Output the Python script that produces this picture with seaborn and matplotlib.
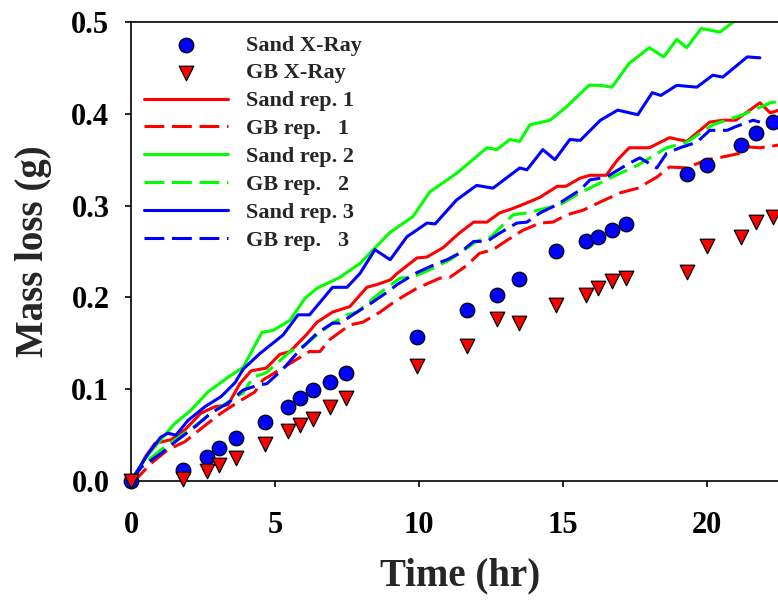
import numpy as np
import pandas as pd
import matplotlib
matplotlib.use("Agg")
import matplotlib.pyplot as plt
from matplotlib.ticker import FormatStrFormatter
import seaborn as sns

# ---------------- data ----------------
xray_time = [0, 1.8, 2.64, 3.06, 3.65, 4.67, 5.45, 5.88, 6.32, 6.9, 7.47, 9.93, 11.67,
             12.7, 13.47, 14.76, 15.8, 16.2, 16.7, 17.2, 19.3, 20.0, 21.2, 21.7, 22.3]
sand_xray = [0, 0.012, 0.026, 0.036, 0.047, 0.064, 0.081, 0.090, 0.099, 0.108, 0.118, 0.157,
             0.186, 0.203, 0.220, 0.251, 0.261, 0.266, 0.273, 0.280, 0.334, 0.344, 0.366,
             0.379, 0.391]
gb_xray = [0, 0.002, 0.011, 0.017, 0.025, 0.040, 0.054, 0.061, 0.068, 0.081, 0.090, 0.125,
           0.147, 0.177, 0.172, 0.192, 0.203, 0.210, 0.218, 0.221, 0.228, 0.256, 0.266,
           0.282, 0.288]

sand1_t = [0, 0.14, 0.49, 0.83, 1.39, 1.88, 2.43, 2.92, 3.37, 3.78, 4.17, 4.7, 5.17, 5.52,
           6.11, 6.46, 7.0, 7.6, 8.19, 8.54, 9.0, 9.24, 9.93, 10.28, 10.83, 11.4, 11.9, 12.36,
           12.8, 13.27, 13.75, 14.2, 14.8, 15.1, 15.6, 15.94, 16.5, 16.9, 17.3, 18.0, 18.7,
           19.3, 20.1, 20.55, 21.0, 21.4, 21.84, 22.2, 22.9]
sand1_m = [0, 0.004, 0.026, 0.041, 0.045, 0.056, 0.074, 0.081, 0.083, 0.106, 0.120, 0.123,
           0.138, 0.141, 0.160, 0.173, 0.184, 0.190, 0.211, 0.214, 0.219, 0.226, 0.243, 0.244,
           0.254, 0.270, 0.282, 0.282, 0.292, 0.297, 0.303, 0.309, 0.321, 0.321, 0.330, 0.333,
           0.333, 0.350, 0.363, 0.363, 0.374, 0.370, 0.391, 0.393, 0.393, 0.402, 0.412, 0.401,
           0.408]

gb1_t = [0, 0.24, 0.69, 1.28, 1.88, 2.43, 3.13, 3.72, 4.3, 4.58, 5.52, 6.2, 6.56, 6.9, 7.6,
         8.05, 8.65, 9.0, 9.34, 9.93, 10.73, 11.08, 11.67, 12.1, 12.57, 13.05, 13.6, 14.2,
         14.65, 15.14, 15.7, 16.3, 17.0, 17.6, 18.26, 18.7, 19.3, 20.0, 20.55, 21.15, 21.4,
         21.84, 22.3, 22.9]
gb1_m = [0, 0.004, 0.019, 0.034, 0.043, 0.057, 0.074, 0.086, 0.097, 0.110, 0.128, 0.141,
         0.141, 0.154, 0.170, 0.173, 0.184, 0.192, 0.199, 0.210, 0.221, 0.222, 0.235, 0.248,
         0.252, 0.262, 0.273, 0.281, 0.282, 0.290, 0.295, 0.304, 0.314, 0.319, 0.331, 0.342,
         0.341, 0.350, 0.353, 0.357, 0.364, 0.363, 0.365, 0.368]

sand2_t = [0, 0.5, 1.04, 1.5, 2.08, 2.67, 3.37, 3.9, 4.34, 4.55, 4.93, 5.52, 6.04, 6.46,
           7.26, 7.95, 9.0, 9.79, 10.38, 11.3, 12.36, 12.7, 13.16, 13.5, 13.85, 14.55, 15.1,
           15.9, 16.3, 16.7, 17.3, 18.0, 18.5, 18.95, 19.3, 19.8, 20.45, 21.0, 21.5]
sand2_m = [0, 0.025, 0.045, 0.062, 0.077, 0.097, 0.113, 0.124, 0.150, 0.162, 0.164, 0.175,
           0.199, 0.210, 0.222, 0.237, 0.271, 0.288, 0.315, 0.335, 0.363, 0.361, 0.372, 0.370,
           0.388, 0.393, 0.407, 0.431, 0.431, 0.429, 0.455, 0.472, 0.462, 0.481, 0.472, 0.493,
           0.489, 0.502, 0.515]

gb2_t = [0, 0.5, 1.04, 1.63, 2.22, 2.78, 3.37, 3.89, 4.24, 4.7, 5.52, 6.04, 6.5, 7.0, 7.5,
         7.85, 8.65, 9.34, 9.79, 10.5, 11.08, 12.0, 12.5, 13.27, 13.75, 14.9, 15.6, 16.7,
         17.6, 18.6, 19.3, 20.2, 21.25, 22.2, 22.9]
gb2_m = [0, 0.020, 0.034, 0.047, 0.060, 0.074, 0.086, 0.096, 0.113, 0.118, 0.141, 0.148,
         0.160, 0.172, 0.181, 0.184, 0.205, 0.221, 0.222, 0.232, 0.241, 0.261, 0.266, 0.290,
         0.292, 0.301, 0.314, 0.331, 0.344, 0.363, 0.369, 0.388, 0.399, 0.412, 0.415]

sand3_t = [0, 0.24, 0.6, 1.04, 1.28, 1.56, 1.98, 2.57, 3.13, 3.61, 3.9, 4.48, 5.28, 5.8, 6.2,
           7.0, 7.5, 7.95, 8.47, 9.0, 9.58, 10.28, 10.56, 11.3, 12.0, 12.57, 13.5, 13.75, 14.3,
           14.72, 15.24, 15.6, 16.3, 16.9, 17.6, 18.1, 18.4, 18.95, 19.65, 20.2, 20.55, 21.4,
           21.84]
sand3_m = [0, 0.012, 0.030, 0.048, 0.052, 0.050, 0.066, 0.081, 0.092, 0.107, 0.122, 0.139,
           0.159, 0.181, 0.181, 0.211, 0.211, 0.226, 0.252, 0.241, 0.266, 0.281, 0.280, 0.306,
           0.322, 0.319, 0.341, 0.339, 0.361, 0.350, 0.372, 0.371, 0.393, 0.404, 0.399, 0.423,
           0.420, 0.431, 0.429, 0.442, 0.440, 0.462, 0.461]

gb3_t = [0, 0.35, 1.04, 1.63, 2.22, 2.78, 3.37, 3.89, 4.37, 4.72, 5.28, 5.87, 6.46, 7.0,
         7.26, 7.7, 8.4, 9.0, 9.24, 9.93, 10.63, 10.97, 11.4, 11.9, 12.36, 12.8, 13.4, 13.75,
         14.2, 14.8, 15.24, 15.6, 15.94, 16.5, 17.3, 17.67, 18.26, 18.6, 19.06, 19.65, 20.1,
         20.7, 21.0, 21.6, 21.84]
gb3_m = [0, 0.015, 0.030, 0.045, 0.059, 0.074, 0.085, 0.099, 0.104, 0.106, 0.122, 0.143,
         0.161, 0.172, 0.172, 0.181, 0.195, 0.208, 0.214, 0.227, 0.237, 0.241, 0.248, 0.261,
         0.261, 0.270, 0.281, 0.282, 0.292, 0.301, 0.310, 0.317, 0.328, 0.331, 0.346, 0.352,
         0.341, 0.357, 0.363, 0.369, 0.382, 0.382, 0.386, 0.393, 0.391]

x_ticks = [0, 5, 10, 15, 20]
y_ticks = [0.0, 0.1, 0.2, 0.3, 0.4, 0.5]

# ---------------- style ----------------
sns.set_style("ticks")
plt.rcParams['font.family'] = ['Liberation Serif', 'DejaVu Serif']
plt.rcParams['font.weight'] = 'bold'
plt.rcParams['axes.labelweight'] = 'bold'
plt.rcParams['lines.solid_joinstyle'] = 'round'
plt.rcParams['lines.dash_joinstyle'] = 'round'

RED, GREEN, BLUE = '#FF0000', '#00FF00', '#0000FF'
DASH = (0, (6.5, 2.5))
LW = 2.2

fig = plt.figure(figsize=(7.78, 6.03), dpi=100)
ax = fig.add_axes([131 / 778, 122 / 603, 658 / 778, 459 / 603])

lines = [
    (sand1_t, sand1_m, RED, '-', 'Sand rep. 1'),
    (gb1_t, gb1_m, RED, DASH, 'GB rep.   1'),
    (sand2_t, sand2_m, GREEN, '-', 'Sand rep. 2'),
    (gb2_t, gb2_m, GREEN, DASH, 'GB rep.   2'),
    (sand3_t, sand3_m, BLUE, '-', 'Sand rep. 3'),
    (gb3_t, gb3_m, BLUE, DASH, 'GB rep.   3'),
]
for t, m, c, ls, lab in lines:
    df = pd.DataFrame({'Time': t, 'Mass': m})
    sns.lineplot(data=df, x='Time', y='Mass', color=c, linestyle=ls, lw=LW,
                 label=lab, sort=False, estimator=None, ax=ax)

xdf = pd.DataFrame({'Time': xray_time, 'Sand': sand_xray, 'GB': gb_xray})
sns.scatterplot(data=xdf, x='Time', y='Sand', marker='o', s=110, color=BLUE,
                edgecolor='black', linewidth=0.9, label='Sand X-Ray', zorder=5,
                clip_on=False, ax=ax)
sns.scatterplot(data=xdf, x='Time', y='GB', marker='v', s=110, color=RED,
                edgecolor='black', linewidth=0.9, label='GB X-Ray', zorder=5,
                clip_on=False, ax=ax)

ax.set_xlim(0, 22.85)
ax.set_ylim(0, 0.5)
ax.set_xticks(x_ticks)
ax.set_yticks(y_ticks)
ax.yaxis.set_major_formatter(FormatStrFormatter('%.1f'))
ax.tick_params(axis='both', direction='out', length=4.5, width=1.2, labelsize=22,
               colors='black')
ax.tick_params(axis='x', pad=17)
ax.tick_params(axis='y', pad=11)
for sp in ['left', 'bottom', 'top']:
    ax.spines[sp].set_visible(True)
    ax.spines[sp].set_linewidth(1.2)
    ax.spines[sp].set_color('black')
ax.spines['right'].set_visible(False)

ax.set_xlabel('Time (hr)', fontsize=28, fontweight='bold', labelpad=13)
ax.set_ylabel('Mass loss (g)', fontsize=28, fontweight='bold', labelpad=14)

handles, labels = ax.get_legend_handles_labels()
hmap = dict(zip(labels, handles))
order = ['Sand X-Ray', 'GB X-Ray', 'Sand rep. 1', 'GB rep.   1', 'Sand rep. 2',
         'GB rep.   2', 'Sand rep. 3', 'GB rep.   3']
ax.legend([hmap[k] for k in order], order, loc='upper left',
          bbox_to_anchor=(144 / 778, (603 - 35) / 603), bbox_transform=fig.transFigure,
          frameon=False, fontsize=16, borderpad=0, borderaxespad=0,
          handlelength=3.8, handletextpad=0.8, labelspacing=0.33)

fig.savefig('out.png', dpi=100)
